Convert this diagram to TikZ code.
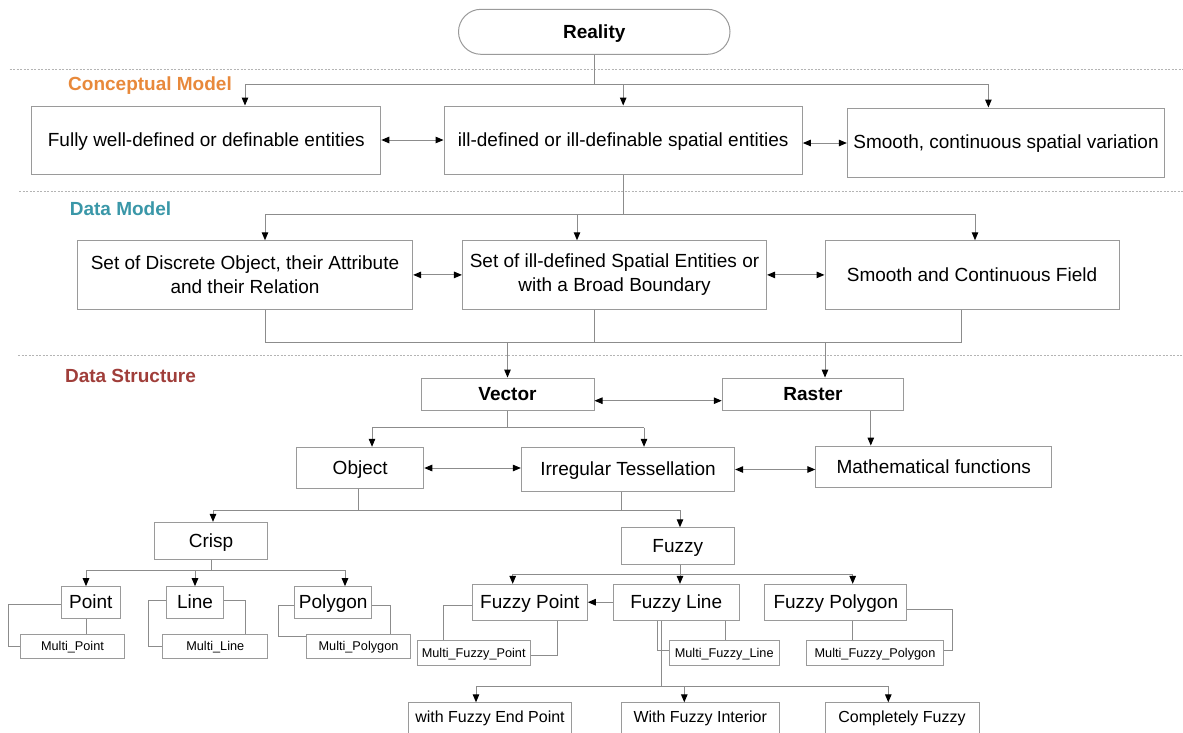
\documentclass[tikz,border=0pt]{standalone}
\usepackage{fontspec}
\setmainfont{Liberation Sans}
\usetikzlibrary{arrows.meta}
\definecolor{boxgray}{HTML}{9A9A9A}
\definecolor{linegray}{HTML}{8C8C8C}
\definecolor{sepgray}{HTML}{B4B4B4}
\definecolor{headorange}{HTML}{E8893B}
\definecolor{headteal}{HTML}{3A97A8}
\definecolor{headred}{HTML}{A03E3A}
\begin{document}
\begin{tikzpicture}[x=1pt,y=-1pt,
  frame/.style 2 args={draw=boxgray, line width=1pt, inner sep=0pt,
    font=\fontsize{19}{24}\selectfont, minimum width=#1pt, minimum height=#2pt},
  box/.style 2 args={frame={#1}{#2}, text height=14.25pt, text depth=1.33pt},
  bbox/.style 2 args={box={#1}{#2}, font=\bfseries\fontsize{19}{24}\selectfont},
  sbox/.style 2 args={frame={#1}{#2}, font=\fontsize{12.7}{15}\selectfont,
    text height=9.5pt, text depth=0.9pt},
  ebox/.style={draw=boxgray, line width=1pt, inner sep=0pt, anchor=north,
    font=\fontsize{16}{19}\selectfont, text height=20pt, text depth=23pt, minimum width=#1pt},
  head/.style={font=\bfseries\fontsize{19}{22}\selectfont, text=#1},
  ln/.style={draw=linegray, line width=1pt},
  arr/.style={ln, -{Triangle[length=8pt,width=6.5pt,color=black]}},
  darr/.style={ln, {Triangle[length=8pt,width=6.5pt,color=black]}-{Triangle[length=8pt,width=6.5pt,color=black]}},
  sep/.style={draw=sepgray, line width=0.8pt, dash pattern=on 2pt off 1.5pt}]
\useasboundingbox (0,0) rectangle (1183,732);

% layer separators
\draw[sep] (9.6,69) -- (1183,69);
\draw[sep] (19,191.7) -- (1183,191.7);
\draw[sep] (18,355.7) -- (1183,355.7);

% layer headings
\node[head=headorange] (hc) at (150,86) {Conceptual Model};
\node[head=headteal] (hd) at (120.5,209) {Data Model};
\node[head=headred] (hs) at (130.5,376) {Data Structure};

% top
\node[bbox={271.5}{45}, rounded corners=22.5pt] (real) at (594.25,31.8) {Reality};

% conceptual model
\node[box={349}{68}] (c1) at (206.3,140) {Fully well-defined or definable entities};
\node[box={358.3}{68}] (c2) at (623.2,140) {ill-defined or ill-definable spatial entities};
\node[box={317.3}{69}] (c3) at (1006,142.5) {Smooth, continuous spatial variation};

% data model
\node[frame={335.3}{68.3}, align=center] (d1) at (245,274.9) {Set of Discrete Object, their Attribute\\and their Relation};
\node[frame={304.1}{68.3}, align=center] (d2) at (614.5,274.9) {Set of ill-defined Spatial Entities or\\with a Broad Boundary};
\node[box={294}{68.3}] (d3) at (972,274.9) {Smooth and Continuous Field};

% data structure
\node[bbox={173}{32.7}] (vec) at (507.5,394.4) {Vector};
\node[bbox={181.5}{32.7}] (ras) at (813,394.4) {Raster};
\node[box={127.1}{41}] (obj) at (360.2,467.8) {Object};
\node[box={213.3}{44.4}] (irr) at (628,469.5) {Irregular Tessellation};
\node[box={235.7}{41.3}] (mat) at (933.7,466.7) {Mathematical functions};
\node[box={113.4}{36.7}] (cri) at (211,540.7) {Crisp};
\node[box={113.5}{36.3}] (fuz) at (677.8,545.9) {Fuzzy};

% crisp primitives
\node[box={59}{31.6}] (pt) at (90.8,602.5) {Point};
\node[box={56.6}{31.6}] (lin) at (195,602.5) {Line};
\node[box={77}{31.6}] (pg) at (333.2,602.5) {Polygon};
\node[sbox={104.4}{24.7}] (mpt) at (72.5,646.4) {Multi\_Point};
\node[sbox={104.7}{24.7}] (mln) at (215.3,646.4) {Multi\_Line};
\node[sbox={104.4}{24.7}] (mpg) at (358.5,646.4) {Multi\_Polygon};

% fuzzy primitives
\node[box={115}{35.7}] (fpt) at (529.8,602.2) {Fuzzy Point};
\node[box={125.7}{35.7}] (fln) at (676.2,602.2) {Fuzzy Line};
\node[box={141.7}{35.7}] (fpg) at (835.8,602.2) {Fuzzy Polygon};
\node[sbox={112.7}{24.6}] (mfpt) at (473.7,653) {Multi\_Fuzzy\_Point};
\node[sbox={110.3}{24.6}] (mfln) at (724.2,653) {Multi\_Fuzzy\_Line};
\node[sbox={136.6}{24.6}] (mfpg) at (875,653) {Multi\_Fuzzy\_Polygon};

% kinds of fuzzy line
\node[ebox=163.4] (e1) at (490,702.3) {with Fuzzy End Point};
\node[ebox=158.3] (e2) at (700.2,702.3) {With Fuzzy Interior};
\node[ebox=154] (e3) at (902,702.3) {Completely Fuzzy};

% Reality -> conceptual model
\coordinate (k1) at (245,84);
\coordinate (k3) at (988.4,84);
\draw[ln] (real.south) -- (real.south |- k1);
\draw[ln] (k1) -- (k3);
\draw[arr] (k1) -- (k1 |- c1.north);
\draw[arr] (c2.north |- k1) -- (c2.north);
\draw[arr] (k3) -- (k3 |- c3.north);
\draw[darr] (c1.east) -- (c2.west);
\draw[darr] ([yshift=-3pt]c2.east) -- ([yshift=-3pt]c2.east -| c3.west);

% conceptual -> data model
\coordinate (m1) at (265,214);
\coordinate (m2) at (577,214);
\coordinate (m3) at (975,214);
\draw[ln] (c2.south) -- (c2.south |- m1);
\draw[ln] (m1) -- (m3);
\draw[arr] (m1) -- (m1 |- d1.north);
\draw[arr] (m2) -- (m2 |- d2.north);
\draw[arr] (m3) -- (m3 |- d3.north);
\draw[darr] (d1.east) -- (d2.west);
\draw[darr] (d2.east) -- (d3.west);

% data model -> data structure
\coordinate (s1) at (265,342);
\coordinate (s2) at (594,342);
\coordinate (s3) at (961.5,342);
\coordinate (s4) at (825,342);
\draw[ln] (s1 |- d1.south) -- (s1) -- (s3) -- (s3 |- d3.south);
\draw[ln] (s2 |- d2.south) -- (s2);
\draw[arr] (vec.north |- s1) -- (vec.north);
\draw[arr] (s4) -- (s4 |- ras.north);
\draw[darr] ([yshift=-6.3pt]vec.east) -- ([yshift=-6.3pt]vec.east -| ras.west);

% vector -> object / tessellation
\coordinate (v1) at (372,427.7);
\coordinate (v2) at (644,427.7);
\draw[ln] (vec.south) -- (vec.south |- v1);
\draw[ln] (v1) -- (v2);
\draw[arr] (v1) -- (v1 |- obj.north);
\draw[arr] (v2) -- (v2 |- irr.north);
\coordinate (rs) at (870.8,410);
\draw[arr] (rs |- ras.south) -- (rs |- mat.north);
\draw[darr] ([yshift=-0.2pt]obj.east) -- ([yshift=-0.2pt]obj.east -| irr.west);
\draw[darr] (irr.east) -- (irr.east -| mat.west);

% object / tessellation -> crisp / fuzzy
\coordinate (o1) at (213,510);
\coordinate (o2) at (358,510);
\coordinate (o3) at (621,510);
\coordinate (o4) at (680,510);
\draw[ln] (o2 |- obj.south) -- (o2);
\draw[ln] (o3 |- irr.south) -- (o3);
\draw[ln] (o1) -- (o4);
\draw[arr] (o1) -- (o1 |- cri.north);
\draw[arr] (o4) -- (o4 |- fuz.north);

% crisp -> point, line, polygon
\coordinate (p1) at (86,570);
\coordinate (p3) at (345,570);
\draw[ln] (cri.south) -- (cri.south |- p1);
\draw[ln] (p1) -- (p3);
\draw[arr] (p1) -- (p1 |- pt.north);
\draw[arr] (lin.north |- p1) -- (lin.north);
\draw[arr] (p3) -- (p3 |- pg.north);

% crisp primitives -> multi
\draw[ln] ([yshift=-1.5pt]pt.west) -- ++(-52,0) |- (mpt.west);
\draw[ln] ([xshift=-4pt]pt.south) -- ([xshift=-4pt]pt.south |- mpt.north);
\draw[ln] ([yshift=1.8pt]lin.west) -- ++(-17.7,0) |- (mln.west);
\draw[ln] ([yshift=1.8pt]lin.east) -- ++(21.7,0) coordinate (lc) -- (lc |- mln.north);
\draw[ln] ([yshift=-2.5pt]pg.west) -- ++(-15.7,0) |- ([yshift=9.7pt]mpg.west);
\draw[ln] ([yshift=-2.5pt]pg.east) -- ++(18.3,0) coordinate (gc) -- (gc |- mpg.north);

% fuzzy -> fuzzy point, line, polygon
\coordinate (f1) at (512.7,574.3);
\coordinate (f2) at (680,574.3);
\coordinate (f3) at (852.7,574.3);
\draw[ln] (f2 |- fuz.south) -- (f2);
\draw[ln] (f1) -- (f3);
\draw[arr] (f1) -- (f1 |- fpt.north);
\draw[arr] (f2) -- (f2 |- fln.north);
\draw[arr] (f3) -- (f3 |- fpg.north);
\draw[arr] (fln.west) -- (fln.west -| fpt.east);

% fuzzy primitives -> multi
\draw[ln] ([yshift=-2.8pt]fpt.west) -- ++(-28,0) coordinate (fpc) -- (fpc |- mfpt.north);
\coordinate (fpd) at (557.7,630);
\draw[ln] (fpd |- fpt.south) |- ([yshift=-2pt]mfpt.east);
\coordinate (fl1) at (657.3,630);
\coordinate (fl2) at (661.7,630);
\coordinate (fl3) at (725,630);
\draw[ln] (fl1 |- fln.south) |- ([yshift=3pt]mfln.west);
\draw[ln] (fl3 |- fln.south) -- (fl3 |- mfln.north);
\coordinate (fg) at (852.3,630);
\draw[ln] (fg |- fpg.south) -- (fg |- mfpg.north);
\draw[ln] ([yshift=-7.1pt]fpg.east) -- ++(45,0) |- ([yshift=3pt]mfpg.east);

% fuzzy line -> kinds
\coordinate (g1) at (476,686);
\coordinate (g2) at (684.3,686);
\coordinate (g3) at (888.3,686);
\draw[ln] (fl2 |- fln.south) -- (fl2 |- g1);
\draw[ln] (g1) -- (g3);
\draw[arr] (g1) -- (g1 |- e1.north);
\draw[arr] (g2) -- (g2 |- e2.north);
\draw[arr] (g3) -- (g3 |- e3.north);
\end{tikzpicture}
\end{document}
